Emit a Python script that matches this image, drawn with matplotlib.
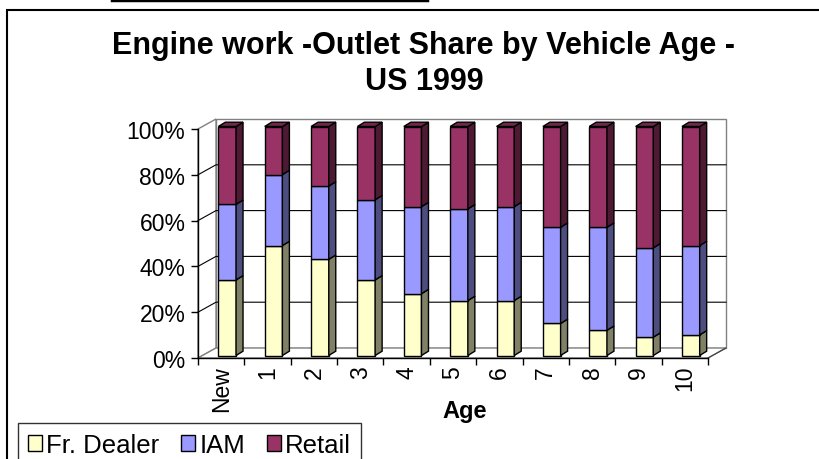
import numpy as np
import matplotlib
matplotlib.use("Agg")
import matplotlib.pyplot as plt
from matplotlib import transforms
from matplotlib.patches import Rectangle, Polygon
from matplotlib.lines import Line2D

plt.rcParams["font.family"] = ["Liberation Sans", "DejaVu Sans"]

# values (percent share per age)
ages = ["New", "1", "2", "3", "4", "5", "6", "7", "8", "9", "10"]
dealer = [33, 48, 42, 33, 27, 24, 24, 14, 11, 8, 9]
iam = [33, 31, 32, 35, 38, 40, 41, 42, 45, 39, 39]
retail = [34, 21, 26, 32, 35, 36, 35, 44, 44, 53, 52]
series_names = ["Fr. Dealer", "IAM", "Retail"]
yticks = [0, 20, 40, 60, 80, 100]

front_colors = ["#FFFFCC", "#9999FF", "#993366"]
side_colors = ["#808066", "#4D4D80", "#4D1933"]
top_color = "#73264D"

W, H = 820, 460
fig = plt.figure(figsize=(W / 100, H / 100), dpi=100)
ax = fig.add_axes([198 / W, 1 - 359 / H, 510 / W, 229 / H])
n = len(ages)
idx = np.arange(n)
x0, x1 = -0.5, n - 0.5
ax.set_xlim(x0, x1)
ax.set_ylim(0, 100)
ax.patch.set_visible(False)

# depth of walls and bars, converted from pixels to data units
px_x = 510 / n
px_y = 229 / 100
wdx, wdy = 18 / px_x, 10 / px_y
bdx, bdy = 7 / px_x, 4.3 / px_y
bw = 17.7 / px_x
wall_ec = "#808080"

# back wall, side wall and floor
ax.add_patch(Rectangle((x0 + wdx, wdy), x1 - x0, 100, fc="white", ec=wall_ec,
                       lw=1, clip_on=False, zorder=0))
ax.add_patch(Polygon([(x0, 0), (x0 + wdx, wdy), (x0 + wdx, 100 + wdy), (x0, 100)],
                     closed=True, fc="white", ec=wall_ec, lw=1, clip_on=False, zorder=0))
ax.add_patch(Polygon([(x0, 0), (x1, 0), (x1 + wdx, wdy), (x0 + wdx, wdy)],
                     closed=True, fc="white", ec=wall_ec, lw=1, clip_on=False, zorder=0))
for v in yticks[1:-1]:
    ax.plot([x0, x0 + wdx, x1 + wdx], [v, v + wdy, v + wdy], color="black",
            lw=0.8, clip_on=False, zorder=1)
ax.plot([x1, x1 + wdx], [0, wdy], color="#404040", lw=0.8, clip_on=False, zorder=1)

# stacked 3d-looking bars
off = transforms.offset_copy(ax.transData, fig=fig, x=6, y=2.5, units="dots")
bottoms = np.zeros(n)
for k, vals in enumerate([dealer, iam, retail]):
    vals = np.array(vals, dtype=float)
    ax.bar(idx, vals, bw, bottom=bottoms, color=front_colors[k], edgecolor="black",
           lw=1, transform=off, clip_on=False, zorder=3, label=series_names[k])
    for i in range(n):
        xr = idx[i] + bw / 2
        ya, yb = bottoms[i], bottoms[i] + vals[i]
        ax.add_patch(Polygon([(xr, ya), (xr + bdx, ya + bdy), (xr + bdx, yb + bdy), (xr, yb)],
                             closed=True, fc=side_colors[k], ec="black", lw=1,
                             transform=off, clip_on=False, zorder=3))
    bottoms += vals

for i in range(n):
    xl, xr = idx[i] - bw / 2, idx[i] + bw / 2
    t = bottoms[i]
    ax.add_patch(Polygon([(xl, t), (xl + bdx, t + bdy), (xr + bdx, t + bdy), (xr, t)],
                         closed=True, fc=top_color, ec="black", lw=1,
                         transform=off, clip_on=False, zorder=3))

# axes
for s in ["top", "right"]:
    ax.spines[s].set_visible(False)
for s in ["left", "bottom"]:
    ax.spines[s].set_color("black")
    ax.spines[s].set_linewidth(1)
    ax.spines[s].set_zorder(2)

ax.set_yticks(yticks)
ax.set_yticklabels([f"{v}%" for v in yticks])
ax.tick_params(axis="y", length=5, width=1, pad=4, labelsize=16.5)

ax.set_xticks(np.arange(n + 1) - 0.5)
ax.set_xticklabels([])
ax.set_xticks(idx, minor=True)
ax.set_xticklabels(ages, minor=True, rotation=90)
ax.tick_params(axis="x", which="major", length=5, width=1)
ax.tick_params(axis="x", which="minor", length=0, pad=5, labelsize=16.5)

fig.text(464.5 / W, 1 - 418 / H, "Age", ha="center", va="baseline",
         fontsize=17, fontweight="bold")
fig.text(424 / W, 1 - 31 / H, "Engine work -Outlet Share by Vehicle Age -\nUS 1999",
         ha="center", va="top", fontsize=22, fontweight="bold", linespacing=1.25)

leg = fig.legend(loc="upper left", bbox_to_anchor=(18 / W, 1 - 424 / H), ncol=3,
                 frameon=True, fancybox=False, edgecolor="black", fontsize=18.5,
                 handlelength=0.55, handleheight=0.55, handletextpad=0.15,
                 columnspacing=0.85, borderpad=0.4, borderaxespad=0)
leg.get_frame().set_linewidth(1)

# outer chart frame and the page line above it
fig.add_artist(Rectangle((7 / W, -0.1), 1.0, 1 - 11 / H + 0.1, transform=fig.transFigure,
                         fill=False, ec="black", lw=1.5))
fig.add_artist(Line2D([112 / W, 427 / W], [1 - 1 / H, 1 - 1 / H], transform=fig.transFigure,
                      color="black", lw=2.5))

fig.savefig("out.png", dpi=100)
